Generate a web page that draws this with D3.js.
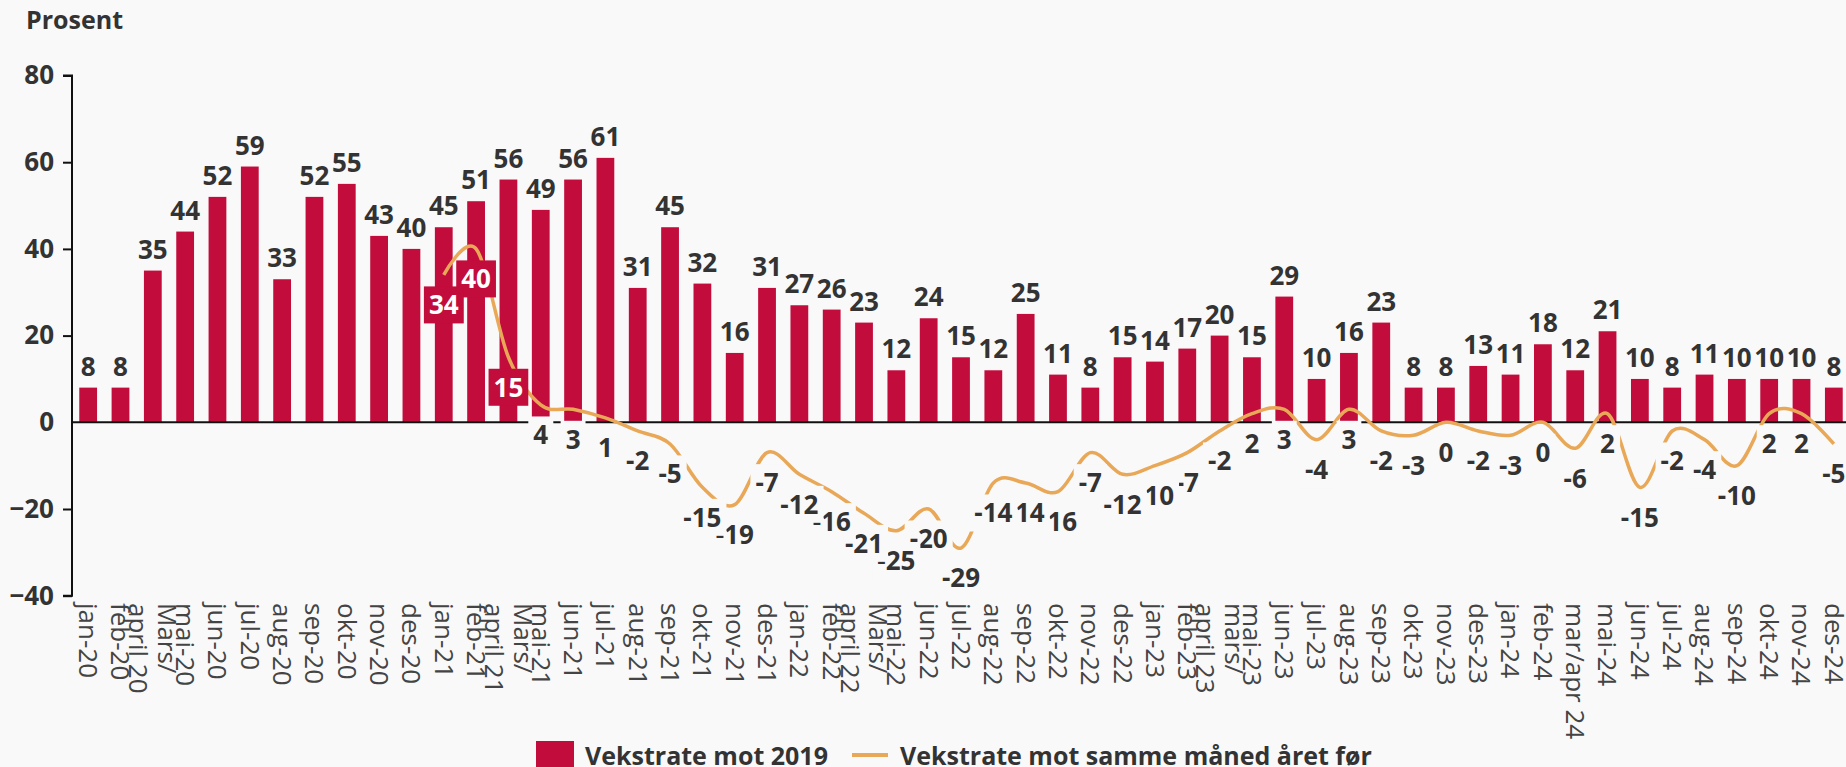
<!DOCTYPE html>
<html>
<head>
<meta charset="utf-8">
<script src="https://cdn.jsdelivr.net/npm/d3@7"></script>
<style>
    html, body { margin: 0; padding: 0; background: #f9f9f9; }
    svg { display: block; font-family: "Open Sans", "Noto Sans", sans-serif; }
</style>
</head>
<body>
<div id="chart"></div>
<script>
const categories = [
    "jan-20", "feb-20", "Mars/\napril 20", "mai-20", "jun-20", "jul-20", "aug-20", "sep-20", "okt-20", "nov-20", "des-20",
    "jan-21", "feb-21", "Mars/\napril 21", "mai-21", "jun-21", "jul-21", "aug-21", "sep-21", "okt-21", "nov-21", "des-21",
    "jan-22", "feb-22", "Mars/\napril 22", "mai-22", "jun-22", "jul-22", "aug-22", "sep-22", "okt-22", "nov-22", "des-22",
    "jan-23", "feb-23", "mars/\napril 23", "mai-23", "jun-23", "jul-23", "aug-23", "sep-23", "okt-23", "nov-23", "des-23",
    "jan-24", "feb-24", "mar/apr 24", "mai-24", "jun-24", "jul-24", "aug-24", "sep-24", "okt-24", "nov-24", "des-24"
];

// Vekstrate mot 2019
const vs2019 = [
    8, 8, 35, 44, 52, 59, 33, 52, 55, 43, 40,
    45, 51, 56, 49, 56, 61, 31, 45, 32, 16, 31,
    27, 26, 23, 12, 24, 15, 12, 25, 11, 8, 15,
    14, 17, 20, 15, 29, 10, 16, 23, 8, 8, 13,
    11, 18, 12, 21, 10, 8, 11, 10, 10, 10, 8
];

// Vekstrate mot samme måned året før (starts jan-21)
const vsPrevYear = [
    null, null, null, null, null, null, null, null, null, null, null,
    34, 40, 15, 4, 3, 1, -2, -5, -15, -19, -7,
    -12, -16, -21, -25, -20, -29, -14, -14, -16, -7, -12,
    -10, -7, -2, 2, 3, -4, 3, -2, -3, 0, -2,
    -3, 0, -6, 2, -15, -2, -4, -10, 2, 2, -5
];

const yTicks = [-40, -20, 0, 20, 40, 60, 80];

const seriesNames = ["Vekstrate mot 2019", "Vekstrate mot samme måned året før"];

const W = 1846, H = 767;
const bg = "#f9f9f9";
const barColor = "#c20c3c";
const lineColor = "#e8a857";
const textColor = "#333";

const svg = d3.select("#chart").append("svg")
    .attr("width", W)
    .attr("height", H);

svg.append("rect").attr("width", W).attr("height", H).attr("fill", bg);

const x = d3.scaleBand()
    .domain(d3.range(categories.length))
    .range([72, 1850])
    .paddingInner(0.45)
    .paddingOuter(0.225);

const y = d3.scaleLinear()
    .domain([-40, 80])
    .range([595.7, 75.5]);

const cx = i => x(i) + x.bandwidth() / 2;

svg.append("text")
    .attr("x", 26)
    .attr("y", 29)
    .attr("font-size", 25)
    .attr("font-weight", "bold")
    .attr("fill", textColor)
    .text("Prosent");

// bars
svg.append("g")
    .selectAll("rect")
    .data(vs2019)
    .join("rect")
    .attr("x", (d, i) => x(i))
    .attr("width", x.bandwidth())
    .attr("y", d => y(Math.max(0, d)))
    .attr("height", d => Math.abs(y(d) - y(0)))
    .attr("fill", barColor);

// y axis
const yAxis = svg.append("g")
    .attr("transform", "translate(72,0)")
    .call(d3.axisLeft(y).tickValues(yTicks).tickSize(9).tickPadding(9));
yAxis.select(".domain").attr("stroke", "#111").attr("stroke-width", 2).attr("d", `M-9,${y(80)}H0V${y(-40)}H-9`);
yAxis.selectAll(".tick line").attr("stroke", "#111").attr("stroke-width", 2);
yAxis.selectAll(".tick text")
    .attr("font-size", 26)
    .attr("font-weight", "bold")
    .attr("font-family", "'Open Sans', sans-serif")
    .attr("fill", textColor);
yAxis.selectAll(".tick").filter(d => d === 0).select("line").remove();

// zero line
svg.append("line")
    .attr("x1", 72).attr("x2", W)
    .attr("y1", y(0)).attr("y2", y(0))
    .attr("stroke", "#111")
    .attr("stroke-width", 2);

// category labels, rotated
const xLab = svg.append("g")
    .selectAll("text")
    .data(categories)
    .join("text")
    .attr("transform", (d, i) => `translate(${cx(i)},603) rotate(90)`)
    .attr("font-size", 26)
    .attr("fill", "#444")
    .attr("text-anchor", "start");

xLab.each(function (d) {
    const lines = d.split("\n");
    const t = d3.select(this);
    lines.forEach((s, k) => {
        t.append("tspan")
            .attr("x", 0)
            .attr("dy", k === 0 ? `${0.35 - (lines.length - 1) * 0.55}em` : "1.1em")
            .text(s);
    });
});

// smoothed line
const linePts = vsPrevYear.map((v, i) => ({ i, v })).filter(p => p.v !== null);
const line = d3.line()
    .x(p => cx(p.i))
    .y(p => y(p.v))
    .curve(d3.curveCardinal.tension(0));

svg.append("path")
    .datum(linePts)
    .attr("d", line)
    .attr("fill", "none")
    .attr("stroke", lineColor)
    .attr("stroke-width", 3.5);

// bar value labels
svg.append("g")
    .selectAll("text")
    .data(vs2019)
    .join("text")
    .attr("x", (d, i) => cx(i))
    .attr("y", d => y(d) - 12)
    .attr("text-anchor", "middle")
    .attr("font-size", 26)
    .attr("font-weight", "bold")
    .attr("fill", textColor)
    .text(d => d);

// line value labels, boxed so they cut the line; earlier labels sit on top
const lab = svg.append("g")
    .selectAll("g")
    .data(linePts.slice().reverse())
    .join("g")
    .attr("transform", p => `translate(${cx(p.i)},${y(p.v) + 30})`);

const inBar = p => p.i <= 13;

lab.append("text")
    .attr("text-anchor", "middle")
    .attr("dy", "0.36em")
    .attr("font-size", 26)
    .attr("font-weight", "bold")
    .attr("fill", p => inBar(p) ? "#fff" : textColor)
    .text(p => p.v);

lab.each(function () {
    const g = d3.select(this);
    const bb = g.select("text").node().getBBox();
    g.insert("rect", "text")
        .attr("x", bb.x - 5)
        .attr("y", -18.5)
        .attr("width", bb.width + 10)
        .attr("height", 37)
        .attr("fill", d => inBar(d) ? barColor : bg);
});

// legend
const leg = svg.append("g");
leg.append("rect")
    .attr("x", 536).attr("y", 741)
    .attr("width", 38).attr("height", 38)
    .attr("fill", barColor);
leg.append("text")
    .attr("x", 585).attr("y", 765)
    .attr("font-size", 25).attr("font-weight", "bold").attr("fill", textColor)
    .text(seriesNames[0]);
leg.append("line")
    .attr("x1", 852).attr("x2", 888)
    .attr("y1", 755).attr("y2", 755)
    .attr("stroke", lineColor).attr("stroke-width", 4);
leg.append("text")
    .attr("x", 900).attr("y", 765)
    .attr("font-size", 25).attr("font-weight", "bold").attr("fill", textColor)
    .text(seriesNames[1]);
</script>
</body>
</html>
